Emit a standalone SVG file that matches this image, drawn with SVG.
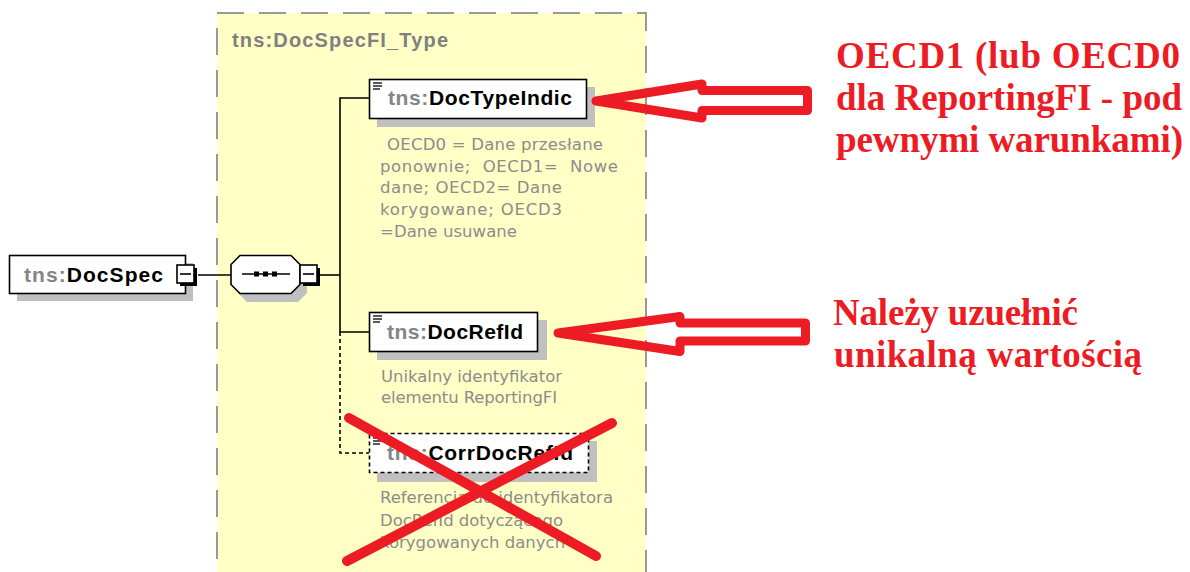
<svg xmlns="http://www.w3.org/2000/svg" width="1190" height="572" viewBox="0 0 1190 572">
<defs>
<style>
.lbl{font-family:"Liberation Sans",Arial,sans-serif;font-weight:bold;font-size:21px}
.pfx{fill:#858585}
.nm{fill:#000}
.desc{font-family:"DejaVu Sans",Verdana,sans-serif;font-size:16.5px;fill:#8c8c8c;white-space:pre}
.box{fill:#fff;stroke:#000;stroke-width:1.6}
.dbox{fill:#fff;stroke:#000;stroke-width:1.6;stroke-dasharray:4 3}
.shadow{fill:#c0c0c0}
.wire{stroke:#000;stroke-width:1.6;fill:none}
.dwire{stroke:#000;stroke-width:1.6;fill:none;stroke-dasharray:4 3}
.red{fill:none;stroke:#ed1c24;stroke-width:9;stroke-linejoin:round}
.redx{stroke:#ed1c24;stroke-width:10;stroke-linecap:round}
.note{font-family:"Liberation Serif","Times New Roman",serif;font-weight:bold;font-size:37px;fill:#ed1c24}
.icon{stroke:#000;stroke-width:1.3}
</style>
</defs>
<rect width="1190" height="572" fill="#fff"/>

<g id="DocSpecFI_Type">
<rect x="217" y="13" width="429" height="600" fill="#ffffc6" stroke="#999" stroke-width="2" stroke-dasharray="27 15"/>
<text x="232" y="47" font-family="Liberation Sans, Arial, sans-serif" font-weight="bold" font-size="20" fill="#808080" textLength="216">tns:DocSpecFI_Type</text>
</g>

<g id="connectors">
<line class="wire" x1="198" y1="275" x2="231" y2="275"/>
<line class="wire" x1="320" y1="275" x2="340" y2="275"/>
<polyline class="wire" points="369,98 340,98 340,332 369,332"/>
<polyline class="dwire" points="340,332 340,453 369,453"/>
</g>

<g id="DocSpec">
<rect class="shadow" x="17" y="263" width="176" height="38"/>
<rect class="box" x="9.5" y="255.5" width="176" height="38"/>
<text class="lbl" x="24" y="282" textLength="139"><tspan class="pfx">tns:</tspan><tspan class="nm">DocSpec</tspan></text>
<rect x="180" y="268" width="17" height="18" fill="#000"/>
<rect x="177" y="265" width="17" height="18" fill="#fff" stroke="#000" stroke-width="1.6"/>
<line x1="180" y1="274" x2="191" y2="274" stroke="#000" stroke-width="1.6"/>
</g>

<g id="sequence">
<polygon class="shadow" points="247,264 298,264 307,273 307,293 298,302 247,302 238,293 238,273"/>
<polygon class="box" points="240,255.5 291,255.5 300,264.5 300,284.5 291,293.5 240,293.5 231,284.5 231,264.5"/>
<line x1="242" y1="274" x2="290" y2="274" stroke="#000" stroke-width="1.6"/>
<rect x="254" y="271.5" width="5" height="5" fill="#000"/>
<rect x="263" y="271.5" width="5" height="5" fill="#000"/>
<rect x="272" y="271.5" width="5" height="5" fill="#000"/>
<rect x="303" y="268" width="17" height="18" fill="#000"/>
<rect x="300" y="265" width="17" height="18" fill="#fff" stroke="#000" stroke-width="1.6"/>
<line x1="303" y1="274" x2="314" y2="274" stroke="#000" stroke-width="1.6"/>
</g>

<g id="DocTypeIndic">
<rect class="shadow" x="377" y="87" width="218" height="40"/>
<rect class="box" x="369.5" y="79.5" width="217" height="39"/>
<line class="icon" x1="373" y1="83" x2="382" y2="83"/>
<line class="icon" x1="373" y1="86" x2="382" y2="86"/>
<line class="icon" x1="373" y1="89" x2="380" y2="89"/>
<text class="lbl" x="388" y="105" textLength="184"><tspan class="pfx">tns:</tspan><tspan class="nm">DocTypeIndic</tspan></text>
<text class="desc" x="387" y="150" textLength="216">OECD0 = Dane przesłane</text>
<text class="desc" x="380" y="172" textLength="238">ponownie;  OECD1=  Nowe</text>
<text class="desc" x="380" y="193" textLength="182">dane; OECD2= Dane</text>
<text class="desc" x="380" y="215" textLength="182">korygowane; OECD3</text>
<text class="desc" x="380" y="237" textLength="137">=Dane usuwane</text>
</g>

<g id="DocRefId">
<rect class="shadow" x="377" y="320" width="170" height="40"/>
<rect class="box" x="369.5" y="312.5" width="168" height="39"/>
<line class="icon" x1="373" y1="316" x2="382" y2="316"/>
<line class="icon" x1="373" y1="319" x2="382" y2="319"/>
<line class="icon" x1="373" y1="322" x2="380" y2="322"/>
<text class="lbl" x="387" y="339" textLength="136"><tspan class="pfx">tns:</tspan><tspan class="nm">DocRefId</tspan></text>
<text class="desc" x="381" y="382" textLength="181">Unikalny identyfikator</text>
<text class="desc" x="381" y="403" textLength="176">elementu ReportingFI</text>
</g>

<g id="CorrDocRefId">
<rect class="shadow" x="377" y="441" width="220" height="41"/>
<rect class="dbox" x="369.5" y="433.5" width="219" height="39"/>
<line class="icon" x1="373" y1="438" x2="382" y2="438"/>
<line class="icon" x1="373" y1="441" x2="382" y2="441"/>
<line class="icon" x1="373" y1="444" x2="380" y2="444"/>
<text class="lbl" x="387" y="460" textLength="186"><tspan class="pfx">tns:</tspan><tspan class="nm">CorrDocRefId</tspan></text>
<text class="desc" x="380" y="503" textLength="233">Referencja do identyfikatora</text>
<text class="desc" x="380" y="526" textLength="183">DocRefId dotyczącego</text>
<text class="desc" x="380" y="548">korygowanych danych</text>
</g>

<g id="annotations">
<path class="red" d="M596,101 L702,84 L702,90.5 L807.5,90.5 L807.5,110.5 L702,110.5 L702,118 Z"/>
<path class="red" d="M558,333 L680,316.5 L680,323 L805.5,323 L805.5,341 L680,341 L680,351.5 Z"/>
<line class="redx" x1="349" y1="418" x2="596" y2="556"/>
<line class="redx" x1="612" y1="423" x2="347" y2="561"/>
<text class="note" x="836" y="68" textLength="344">OECD1 (lub OECD0</text>
<text class="note" x="836" y="110" textLength="346">dla ReportingFI - pod</text>
<text class="note" x="836" y="152" textLength="347">pewnymi warunkami)</text>
<text class="note" x="833" y="325" textLength="245">Należy uzuełnić</text>
<text class="note" x="834" y="367" textLength="308">unikalną wartością</text>
</g>
</svg>
